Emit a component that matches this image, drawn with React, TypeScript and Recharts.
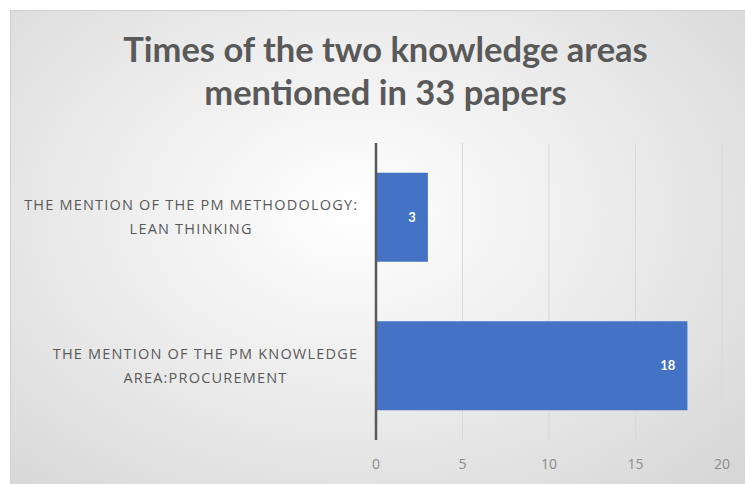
import React from "react";
import {
  Bar,
  BarChart,
  CartesianGrid,
  LabelList,
  ReferenceLine,
  XAxis,
  YAxis,
} from "recharts";

const categories = [
  "THE MENTION OF THE PM METHODOLOGY:\nLEAN THINKING",
  "THE MENTION OF THE PM KNOWLEDGE\nAREA:PROCUREMENT",
];
const counts = [3, 18];
const xTicks = [0, 5, 10, 15, 20];

const data = categories.map((name, i) => ({ name, count: counts[i] }));

const TICK_FONT = "14.5px 'Open Sans'";
const TICK_SPACING = 1.2;

function textWidth(s: string) {
  const ctx = document.createElement("canvas").getContext("2d");
  if (!ctx) return s.length * 10;
  ctx.font = TICK_FONT;
  return ctx.measureText(s).width + TICK_SPACING * (s.length - 1);
}

/** Multi-line category label, lines centred on each other, block right-aligned to the axis. */
function CategoryTick(props: any) {
  const { x, y, payload } = props;
  const lines = String(payload.value).split("\n");
  const w = Math.max(...lines.map(textWidth));
  const cx = x - 11 - w / 2 + TICK_SPACING / 2;
  const lh = 24;
  const y0 = y - ((lines.length - 1) * lh) / 2;
  return (
    <text
      x={cx}
      y={y0}
      textAnchor="middle"
      fill="#595959"
      style={{ font: TICK_FONT, letterSpacing: TICK_SPACING }}
    >
      {lines.map((l, i) => (
        <tspan key={i} x={cx} y={y0 + i * lh} dy="0.35em">
          {l}
        </tspan>
      ))}
    </text>
  );
}

export default function App() {
  return (
    <div
      style={{
        position: "fixed",
        left: 0,
        top: 0,
        width: 745,
        height: 484,
        background: "#fff",
        overflow: "hidden",
      }}
    >
      <div
        style={{
          position: "absolute",
          left: 10,
          top: 10,
          width: 760,
          height: 500,
          border: "1px solid #d0d0d0",
          background:
            "radial-gradient(ellipse at 45% 40%, #ffffff 0%, #f0f0f0 35%, #d2d2d2 100%)",
        }}
      />
      <div
        style={{
          position: "absolute",
          left: 13,
          top: 27,
          width: 745,
          textAlign: "center",
          fontFamily: "Lato",
          fontWeight: 700,
          fontSize: 34.5,
          lineHeight: "43px",
          color: "#595959",
        }}
      >
        Times of the two knowledge areas
        <br />
        mentioned in 33 papers
      </div>
      <div style={{ position: "absolute", left: 0, top: 0 }}>
        <BarChart
          width={745}
          height={484}
          data={data}
          layout="vertical"
          margin={{ top: 143, right: 23, bottom: 14, left: 10 }}
          barCategoryGap="20%"
        >
          <CartesianGrid horizontal={false} stroke="#d9d9d9" />
          <XAxis
            type="number"
            domain={[0, 20]}
            ticks={xTicks}
            axisLine={false}
            tickLine={false}
            height={30}
            tick={{ fill: "#8c8c8c", fontSize: 14, fontFamily: "Open Sans" }}
            tickMargin={13}
          />
          <YAxis
            type="category"
            dataKey="name"
            width={366}
            axisLine={false}
            tickLine={false}
            tick={<CategoryTick />}
            interval={0}
          />
          <Bar dataKey="count" fill="#4472c4" isAnimationActive={false}>
            <LabelList
              dataKey="count"
              position="insideRight"
              offset={12}
              style={{
                fill: "#ffffff",
                fontSize: 13,
                fontWeight: 700,
                fontFamily: "Lato",
              }}
            />
          </Bar>
          <ReferenceLine x={0} stroke="#595959" strokeWidth={2.5} />
        </BarChart>
      </div>
    </div>
  );
}
